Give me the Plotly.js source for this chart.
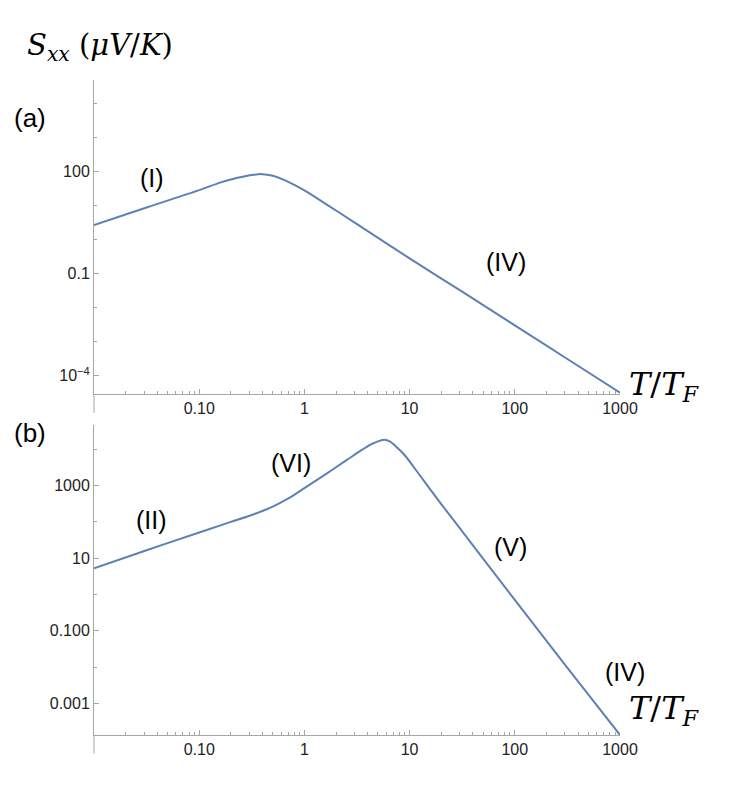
<!DOCTYPE html>
<html>
<head>
<meta charset="utf-8">
<script src="https://cdn.plot.ly/plotly-3.0.1.min.js"></script>
<style>html,body{margin:0;padding:0;background:#fff;}#chart{width:744px;height:788px;}</style>
</head>
<body>
<div id="chart"></div>
<script>
// ---- data ----
// panel (a)
const tA = [0.01, 0.0316, 0.1, 0.158, 0.2, 0.251, 0.316, 0.398, 0.501, 0.631, 0.794, 1, 1.78, 3.16, 10, 31.6, 100, 316, 1000];
const sA = [2.69, 8.91, 28.8, 47.9, 58.9, 70.0, 80.4, 85.1, 75.9, 58.9, 41.7, 28.2, 9.12, 2.88, 0.282, 0.0295, 0.00302, 0.000309, 0.0000316];
// panel (b)
const tB = [0.01, 0.0316, 0.1, 0.2, 0.316, 0.398, 0.501, 0.631, 0.794, 1, 1.585, 2.512, 3.548, 4.467, 5.248, 5.754, 6.457, 7.413, 8.913, 11.48, 19.19, 31.62, 100, 316.2, 1000];
const sB = [5.25, 16.6, 51.3, 100, 155, 200, 263, 372, 550, 851, 2042, 5012, 9772, 14454, 17378, 18197, 16596, 12023, 7079, 2692, 363, 55.0, 0.708, 0.00955, 0.000135];

// tick labels
const xTickVals = [0.1, 1, 10, 100, 1000];
const xTickText = ["0.10", "1", "10", "100", "1000"];
const yATickVals = [0.0001, 0.1, 100];
const yATickText = ["10<sup>\u22124</sup>", "0.1", "100"];
const yAMinor = [0.001, 0.01, 1, 10, 1000, 10000];
const yBTickVals = [0.001, 0.1, 10, 1000];
const yBTickText = ["0.001", "0.100", "10", "1000"];
const yBMinor = [0.01, 1, 100, 10000];

// region labels  [text, log10 T, log10 S]
const labelsA = [["(I)", -1.45, 1.81], ["(IV)", 1.92, -0.65]];
const labelsB = [["(II)", -1.45, 2.06], ["(VI)", -0.13, 3.62], ["(V)", 1.96, 1.32]];
// label beyond the x range, in paper fractions
const labelsBPaper = [["(IV)", 1.0095, 0.0966]];

// minor x ticks: 2..9 in each decade
const xMinor = [];
[0.01, 0.1, 1, 10, 100].forEach(d => { for (let k = 2; k <= 9; k++) xMinor.push(+(k * d).toPrecision(3)); });

const axisCol = '#a6a6a6';
const tickFont = {family: 'Liberation Sans, Arial, sans-serif', size: 16, color: '#222'};
const lineCol = '#5E81B5';

function xAxis(anchor) {
  return {
    type: 'log', range: [-2, 3], anchor: anchor,
    showline: true, linecolor: axisCol, linewidth: 1,
    showgrid: false, zeroline: false,
    ticks: 'inside', ticklen: 5, tickcolor: axisCol, tickwidth: 1,
    tickmode: 'array', tickvals: xTickVals, ticktext: xTickText,
    tickfont: tickFont,
    minor: {tickmode: 'array', tickvals: xMinor, ticks: 'inside', ticklen: 3, tickcolor: axisCol, tickwidth: 1, showgrid: false}
  };
}
function yAxis(anchor, range, domain, tv, tt, minor) {
  return {
    type: 'log', range: range, domain: domain, anchor: anchor,
    showline: true, linecolor: axisCol, linewidth: 1,
    showgrid: false, zeroline: false,
    ticks: 'inside', ticklen: 5, tickcolor: axisCol, tickwidth: 1,
    tickmode: 'array', tickvals: tv, ticktext: tt,
    tickfont: tickFont,
    minor: {tickmode: 'array', tickvals: minor, ticks: 'inside', ticklen: 3, tickcolor: axisCol, tickwidth: 1, showgrid: false}
  };
}

const traces = [
  {x: tA, y: sA, xaxis: 'x', yaxis: 'y', mode: 'lines', line: {color: lineCol, width: 2, shape: 'spline', smoothing: 1}, hoverinfo: 'skip'},
  {x: tB, y: sB, xaxis: 'x2', yaxis: 'y2', mode: 'lines', line: {color: lineCol, width: 2, shape: 'spline', smoothing: 1}, hoverinfo: 'skip'}
];

const labFont = {family: 'Liberation Sans, Arial, sans-serif', size: 25, color: '#000'};
const serifY = {family: 'DejaVu Serif, Liberation Serif, serif', size: 29, color: '#000'};
const serifX = {family: 'DejaVu Serif, Liberation Serif, serif', size: 32, color: '#000'};
const ann = [];
labelsA.forEach(l => ann.push({text: l[0], x: l[1], y: l[2], xref: 'x', yref: 'y', showarrow: false, font: labFont}));
labelsB.forEach(l => ann.push({text: l[0], x: l[1], y: l[2], xref: 'x2', yref: 'y2', showarrow: false, font: labFont}));
labelsBPaper.forEach(l => ann.push({text: l[0], x: l[1], y: l[2], xref: 'paper', yref: 'paper', xanchor: 'center', yanchor: 'middle', showarrow: false, font: labFont}));
ann.push({text: '<i>S</i><sub><i>xx</i></sub> (<i>\u03bcV</i>/<i>K</i>)', xref: 'paper', yref: 'paper', x: -0.131, y: 1.05, xanchor: 'left', yanchor: 'middle', showarrow: false, font: serifY});
ann.push({text: '(a)', xref: 'paper', yref: 'paper', x: -0.156, y: 0.942, xanchor: 'left', yanchor: 'middle', showarrow: false, font: {family: 'Liberation Sans, Arial, sans-serif', size: 26, color: '#000'}});
ann.push({text: '(b)', xref: 'paper', yref: 'paper', x: -0.156, y: 0.461, xanchor: 'left', yanchor: 'middle', showarrow: false, font: {family: 'Liberation Sans, Arial, sans-serif', size: 26, color: '#000'}});
ann.push({text: '<i>T</i>/<i>T</i><sub><i>F</i></sub>', xref: 'paper', yref: 'paper', x: 1.014, y: 0.533, xanchor: 'left', yanchor: 'middle', showarrow: false, font: serifX});
ann.push({text: '<i>T</i>/<i>T</i><sub><i>F</i></sub>', xref: 'paper', yref: 'paper', x: 1.014, y: 0.038, xanchor: 'left', yanchor: 'middle', showarrow: false, font: serifX});

const layout = {
  width: 744, height: 788,
  margin: {l: 94, r: 124, t: 80, b: 53},
  paper_bgcolor: '#fff', plot_bgcolor: '#fff',
  showlegend: false,
  xaxis: xAxis('y'),
  yaxis: yAxis('x', [-4.54, 4.70], [0.5206, 1], yATickVals, yATickText, yAMinor),
  xaxis2: xAxis('y2'),
  yaxis2: yAxis('x2', [-3.87, 4.67], [0, 0.4733], yBTickVals, yBTickText, yBMinor),
  annotations: ann,
  shapes: [
    {type: 'line', xref: 'x domain', yref: 'y domain', x0: 0, x1: 0, y0: 0, y1: -0.06, line: {color: axisCol, width: 1}},
    {type: 'line', xref: 'x2 domain', yref: 'y2 domain', x0: 0, x1: 0, y0: 0, y1: -0.06, line: {color: axisCol, width: 1}}
  ]
};

Plotly.newPlot('chart', traces, layout, {staticPlot: true, displayModeBar: false});
</script>
</body>
</html>
